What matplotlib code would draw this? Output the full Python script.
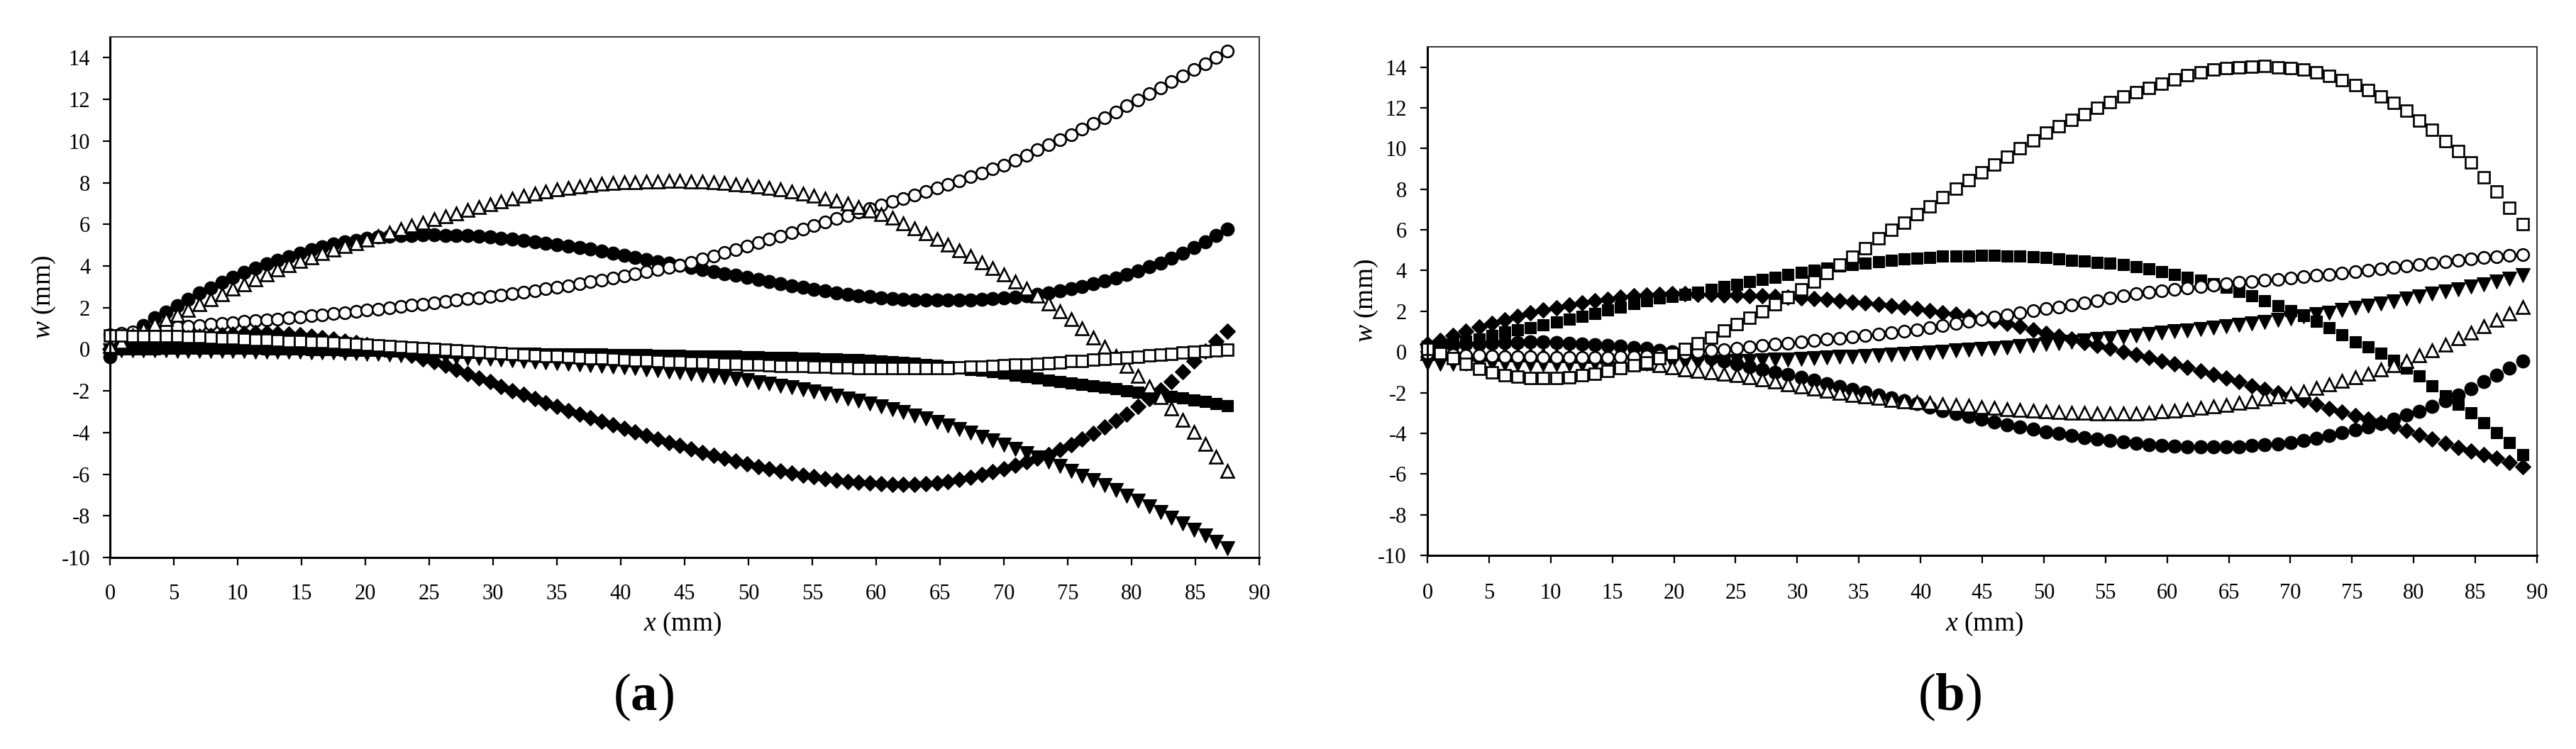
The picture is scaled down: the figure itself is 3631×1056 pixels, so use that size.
import numpy as np
import matplotlib
matplotlib.use("Agg")
import matplotlib.pyplot as plt

plt.rcParams['font.family'] = ['Liberation Serif', 'DejaVu Serif']
plt.rcParams['mathtext.fontset'] = 'custom'
plt.rcParams['mathtext.rm'] = 'Liberation Serif'
plt.rcParams['mathtext.it'] = 'Liberation Serif:italic'
plt.rcParams['mathtext.bf'] = 'Liberation Serif:bold'
plt.rcParams['axes.unicode_minus'] = False

# ---------------- data: panel (a) ----------------
x_a = np.round(np.arange(101) * 0.875, 3)

a_open_circle = [0.70,0.76,0.82,0.88,0.95,1.01,1.06,1.11,1.15,1.19,
 1.24,1.28,1.33,1.37,1.42,1.46,1.50,1.55,1.60,1.65,
 1.71,1.76,1.81,1.87,1.93,1.99,2.05,2.11,2.17,2.24,
 2.30,2.36,2.42,2.48,2.54,2.61,2.68,2.75,2.82,2.90,
 2.97,3.06,3.15,3.24,3.32,3.41,3.51,3.61,3.72,3.82,
 3.93,4.04,4.18,4.33,4.48,4.64,4.79,4.95,5.11,5.28,
 5.44,5.60,5.77,5.93,6.10,6.27,6.43,6.60,6.77,6.93,
 7.09,7.25,7.40,7.56,7.73,7.91,8.10,8.28,8.47,8.65,
 8.85,9.08,9.32,9.57,9.81,10.05,10.31,10.58,10.85,11.12,
 11.40,11.68,11.97,12.26,12.55,12.84,13.13,13.43,13.72,14.02,
 14.33]

a_filled_circle = [-0.35,0.25,0.75,1.15,1.5,1.8,2.1,2.4,2.7,2.95,
 3.2,3.45,3.68,3.9,4.1,4.28,4.45,4.62,4.78,4.92,
 5.04,5.15,5.24,5.32,5.38,5.43,5.46,5.48,5.49,5.49,
 5.48,5.47,5.45,5.42,5.38,5.33,5.28,5.22,5.16,5.10,
 5.03,4.96,4.88,4.80,4.71,4.62,4.52,4.42,4.32,4.22,
 4.12,4.02,3.92,3.83,3.74,3.64,3.54,3.44,3.34,3.24,
 3.14,3.05,2.96,2.87,2.79,2.71,2.64,2.58,2.52,2.47,
 2.43,2.40,2.38,2.36,2.35,2.35,2.36,2.37,2.39,2.42,
 2.46,2.51,2.57,2.64,2.72,2.81,2.91,3.02,3.14,3.28,
 3.43,3.59,3.76,3.95,4.15,4.37,4.61,4.87,5.15,5.45,
 5.78]

a_open_triangle = [0.15,0.35,0.65,0.98,1.22,1.44,1.66,1.9,2.15,2.4,
 2.65,2.9,3.13,3.36,3.59,3.82,4.03,4.23,4.42,4.6,
 4.77,4.94,5.1,5.27,5.44,5.61,5.77,5.93,6.08,6.23,
 6.38,6.53,6.68,6.82,6.96,7.1,7.23,7.36,7.48,7.58,
 7.68,7.76,7.83,7.89,7.94,7.98,8.01,8.03,8.05,8.06,
 8.07,8.07,8.06,8.04,8.01,7.97,7.93,7.88,7.82,7.75,
 7.67,7.58,7.48,7.37,7.25,7.12,6.98,6.83,6.67,6.5,
 6.3,6.05,5.8,5.55,5.3,5.02,4.75,4.47,4.18,3.88,
 3.58,3.25,2.92,2.58,2.2,1.82,1.43,1.0,0.56,0.12,
 -0.34,-0.8,-1.28,-1.78,-2.3,-2.84,-3.4,-3.97,-4.56,-5.17,
 -5.85]

a_down_triangle = [-0.05,-0.05,-0.06,-0.06,-0.07,-0.07,-0.08,-0.08,-0.09,-0.09,
 -0.1,-0.1,-0.1,-0.11,-0.11,-0.12,-0.12,-0.13,-0.14,-0.15,
 -0.16,-0.18,-0.19,-0.21,-0.23,-0.25,-0.28,-0.3,-0.32,-0.34,
 -0.36,-0.39,-0.42,-0.44,-0.47,-0.5,-0.54,-0.57,-0.6,-0.63,
 -0.66,-0.69,-0.73,-0.76,-0.8,-0.84,-0.88,-0.92,-0.97,-1.02,
 -1.06,-1.11,-1.17,-1.23,-1.29,-1.36,-1.43,-1.5,-1.58,-1.66,
 -1.75,-1.84,-1.93,-2.03,-2.13,-2.24,-2.36,-2.48,-2.61,-2.74,
 -2.88,-3.03,-3.18,-3.34,-3.5,-3.67,-3.84,-4.02,-4.2,-4.39,
 -4.58,-4.78,-4.98,-5.19,-5.4,-5.62,-5.84,-6.07,-6.3,-6.54,
 -6.78,-7.03,-7.29,-7.55,-7.82,-8.1,-8.38,-8.67,-8.96,-9.26,
 -9.56]

a_diamond = [0.0,0.09,0.18,0.26,0.34,0.42,0.49,0.56,0.62,0.67,
 0.71,0.74,0.76,0.78,0.78,0.77,0.74,0.7,0.64,0.57,
 0.48,0.4,0.31,0.22,0.1,-0.03,-0.16,-0.3,-0.45,-0.6,
 -0.78,-0.97,-1.17,-1.37,-1.57,-1.78,-1.98,-2.18,-2.37,-2.56,
 -2.75,-2.94,-3.12,-3.29,-3.46,-3.63,-3.8,-3.97,-4.14,-4.31,
 -4.47,-4.63,-4.79,-4.95,-5.1,-5.24,-5.38,-5.51,-5.63,-5.74,
 -5.85,-5.95,-6.04,-6.13,-6.21,-6.28,-6.34,-6.39,-6.43,-6.46,
 -6.48,-6.49,-6.49,-6.47,-6.44,-6.36,-6.27,-6.15,-6.02,-5.87,
 -5.73,-5.57,-5.41,-5.23,-5.05,-4.82,-4.57,-4.31,-4.04,-3.75,
 -3.43,-3.12,-2.76,-2.37,-1.96,-1.55,-1.07,-0.58,-0.1,0.38,
 0.85]

a_open_square = [0.65,0.65,0.64,0.64,0.63,0.62,0.61,0.6,0.58,0.56,
 0.54,0.52,0.49,0.47,0.44,0.42,0.4,0.38,0.36,0.34,
 0.32,0.29,0.25,0.22,0.18,0.14,0.11,0.07,0.04,0.01,
 -0.03,-0.06,-0.09,-0.12,-0.16,-0.19,-0.22,-0.25,-0.28,-0.31,
 -0.33,-0.36,-0.39,-0.42,-0.44,-0.47,-0.49,-0.52,-0.54,-0.57,
 -0.59,-0.61,-0.63,-0.65,-0.67,-0.69,-0.71,-0.73,-0.75,-0.77,
 -0.79,-0.8,-0.82,-0.84,-0.85,-0.87,-0.88,-0.9,-0.91,-0.92,
 -0.92,-0.92,-0.92,-0.91,-0.9,-0.89,-0.87,-0.85,-0.83,-0.8,
 -0.78,-0.75,-0.72,-0.69,-0.66,-0.62,-0.58,-0.55,-0.51,-0.47,
 -0.43,-0.39,-0.35,-0.3,-0.26,-0.22,-0.17,-0.13,-0.09,-0.05,
 -0.01]

a_filled_square = [0.0,0.01,0.02,0.03,0.03,0.04,0.04,0.05,0.05,0.05,
 0.05,0.05,0.04,0.04,0.03,0.02,0.01,0.0,-0.01,-0.02,
 -0.03,-0.04,-0.05,-0.06,-0.07,-0.08,-0.09,-0.1,-0.11,-0.12,
 -0.13,-0.14,-0.15,-0.16,-0.17,-0.17,-0.18,-0.19,-0.2,-0.21,
 -0.21,-0.22,-0.23,-0.24,-0.24,-0.25,-0.26,-0.26,-0.27,-0.28,
 -0.29,-0.3,-0.31,-0.31,-0.32,-0.33,-0.34,-0.35,-0.37,-0.38,
 -0.39,-0.41,-0.42,-0.44,-0.45,-0.47,-0.49,-0.51,-0.54,-0.57,
 -0.6,-0.64,-0.68,-0.73,-0.78,-0.84,-0.9,-0.96,-1.02,-1.08,
 -1.15,-1.23,-1.31,-1.39,-1.47,-1.55,-1.63,-1.7,-1.77,-1.84,
 -1.91,-1.98,-2.05,-2.12,-2.19,-2.26,-2.34,-2.43,-2.52,-2.62,
 -2.72]

# ---------------- data: panel (b) ----------------
x_b = np.round(np.arange(86) * 1.045, 3)

b_open_square = [0.15,
 -0.05,-0.32,-0.6,-0.84,-1.02,-1.13,-1.22,-1.27,-1.28,-1.27,
 -1.24,-1.15,-1.06,-0.95,-0.8,-0.66,-0.5,-0.3,-0.09,0.15,
 0.44,0.72,1.05,1.36,1.67,2.0,2.35,2.7,3.08,3.46,
 3.88,4.28,4.68,5.1,5.57,6.0,6.36,6.78,7.17,7.62,
 8.04,8.45,8.82,9.2,9.6,10.0,10.4,10.78,11.1,11.42,
 11.7,11.99,12.27,12.55,12.78,12.98,13.2,13.4,13.6,13.75,
 13.88,13.96,14.0,14.03,14.05,14.0,13.96,13.87,13.74,13.56,
 13.35,13.13,12.86,12.56,12.25,11.86,11.38,10.93,10.38,9.88,
 9.3,8.58,7.88,7.1,6.3]

b_filled_square = [0.3,0.35,0.42,0.52,0.65,0.82,0.97,1.1,1.2,1.33,
 1.48,1.61,1.76,1.9,2.06,2.22,2.37,2.52,2.64,2.74,
 2.83,2.93,3.06,3.2,3.33,3.45,3.57,3.68,3.8,3.91,
 4.03,4.13,4.21,4.28,4.36,4.43,4.5,4.56,4.61,4.66,
 4.7,4.72,4.73,4.74,4.74,4.73,4.71,4.68,4.63,4.57,
 4.51,4.46,4.41,4.36,4.3,4.2,4.08,3.95,3.82,3.68,
 3.53,3.36,3.18,2.98,2.76,2.52,2.27,2.02,1.78,1.5,
 1.18,0.84,0.5,0.24,-0.06,-0.42,-0.78,-1.18,-1.68,-2.14,
 -2.58,-3.0,-3.48,-3.97,-4.45,-5.05]

b_open_circle = [-0.05,-0.09,-0.12,-0.15,-0.18,-0.2,-0.22,-0.24,-0.25,-0.26,
 -0.27,-0.27,-0.27,-0.27,-0.26,-0.25,-0.23,-0.2,-0.15,-0.1,
 -0.05,0.0,0.06,0.12,0.18,0.25,0.32,0.38,0.44,0.5,
 0.56,0.62,0.68,0.74,0.81,0.88,0.95,1.02,1.1,1.19,
 1.29,1.39,1.5,1.6,1.71,1.82,1.93,2.03,2.13,2.22,
 2.32,2.42,2.53,2.64,2.75,2.85,2.94,3.02,3.09,3.16,
 3.23,3.29,3.35,3.41,3.47,3.52,3.58,3.64,3.7,3.76,
 3.82,3.88,3.95,4.02,4.09,4.16,4.23,4.31,4.38,4.45,
 4.51,4.57,4.63,4.69,4.74,4.79]

b_down_triangle = [-0.55,-0.57,-0.58,-0.59,-0.6,-0.6,-0.6,-0.61,-0.61,-0.61,
 -0.61,-0.61,-0.61,-0.6,-0.6,-0.59,-0.58,-0.57,-0.56,-0.55,
 -0.53,-0.51,-0.49,-0.47,-0.45,-0.43,-0.41,-0.39,-0.37,-0.34,
 -0.31,-0.28,-0.25,-0.22,-0.19,-0.16,-0.13,-0.09,-0.06,-0.02,
 0.02,0.06,0.1,0.14,0.18,0.23,0.28,0.33,0.38,0.44,
 0.5,0.56,0.62,0.68,0.75,0.81,0.88,0.94,1.01,1.07,
 1.13,1.19,1.26,1.33,1.4,1.48,1.56,1.65,1.74,1.84,
 1.94,2.05,2.16,2.27,2.38,2.5,2.61,2.73,2.85,2.97,
 3.09,3.21,3.33,3.45,3.6,3.78]

b_open_triangle = [-0.05,-0.07,-0.08,-0.09,-0.1,-0.1,-0.11,-0.12,-0.13,-0.14,
 -0.16,-0.17,-0.19,-0.21,-0.25,-0.33,-0.43,-0.55,-0.67,-0.77,
 -0.87,-0.95,-1.01,-1.07,-1.16,-1.26,-1.37,-1.47,-1.58,-1.69,
 -1.81,-1.92,-2.02,-2.11,-2.19,-2.27,-2.35,-2.42,-2.47,-2.52,
 -2.56,-2.61,-2.66,-2.7,-2.75,-2.8,-2.85,-2.89,-2.93,-2.96,
 -2.98,-3.0,-3.02,-3.03,-3.03,-3.01,-2.98,-2.93,-2.87,-2.81,
 -2.74,-2.68,-2.61,-2.52,-2.43,-2.31,-2.18,-2.06,-1.93,-1.77,
 -1.6,-1.43,-1.26,-1.07,-0.88,-0.66,-0.43,-0.17,0.09,0.36,
 0.66,0.96,1.25,1.57,1.88,2.2]

b_filled_circle = [0.3,0.32,0.35,0.38,0.4,0.43,0.45,0.47,0.48,0.48,
 0.47,0.44,0.4,0.37,0.33,0.28,0.23,0.17,0.09,0.01,
 -0.09,-0.2,-0.32,-0.45,-0.6,-0.74,-0.87,-1.0,-1.12,-1.25,
 -1.4,-1.56,-1.7,-1.85,-1.99,-2.13,-2.25,-2.39,-2.54,-2.7,
 -2.87,-3.02,-3.17,-3.31,-3.45,-3.57,-3.69,-3.8,-3.92,-4.02,
 -4.12,-4.2,-4.27,-4.34,-4.41,-4.48,-4.55,-4.6,-4.64,-4.66,
 -4.67,-4.68,-4.67,-4.65,-4.61,-4.57,-4.51,-4.44,-4.36,-4.26,
 -4.12,-3.98,-3.84,-3.68,-3.5,-3.31,-3.11,-2.91,-2.67,-2.41,
 -2.12,-1.8,-1.47,-1.15,-0.8,-0.44]

b_diamond = [0.38,0.56,0.8,1.02,1.22,1.4,1.58,1.74,1.91,2.05,
 2.18,2.3,2.41,2.51,2.59,2.68,2.75,2.8,2.83,2.85,
 2.85,2.84,2.83,2.81,2.79,2.77,2.75,2.72,2.7,2.67,
 2.63,2.58,2.52,2.46,2.4,2.33,2.27,2.2,2.12,2.03,
 1.94,1.84,1.75,1.66,1.55,1.4,1.25,1.09,0.93,0.78,
 0.62,0.47,0.32,0.17,0.02,-0.13,-0.28,-0.43,-0.59,-0.76,
 -0.93,-1.1,-1.28,-1.47,-1.65,-1.83,-2.0,-2.17,-2.35,-2.56,
 -2.77,-2.96,-3.14,-3.32,-3.48,-3.66,-3.85,-4.06,-4.28,-4.5,
 -4.7,-4.88,-5.05,-5.22,-5.42,-5.65]

x_ticks = list(range(0, 95, 5))
y_ticks = list(range(-10, 16, 2))

# ---------------- figure ----------------
W, H = 3631, 1056
fig = plt.figure(figsize=(W / 100, H / 100), dpi=100)

def frac_axes(l, t, r, b):
    return [l / W, 1 - b / H, (r - l) / W, (b - t) / H]

ax_a = fig.add_axes(frac_axes(155, 52, 1775, 786))
ax_b = fig.add_axes(frac_axes(2012, 66, 3576, 783))

open_kw = dict(mfc='white', mec='black', mew=1.9)
fill_kw = dict(mfc='black', mec='black', mew=0.8)

def draw(ax, x, y, marker, ms, kw):
    ax.plot(x[:len(y)], y, linestyle='none', marker=marker, ms=ms,
            clip_on=False, **kw)

# panel (a) order
draw(ax_a, x_a, a_filled_square, 's', 12.0, fill_kw)
draw(ax_a, x_a, a_down_triangle, 'v', 14.0, fill_kw)
draw(ax_a, x_a, a_filled_circle, 'o', 13.5, fill_kw)
draw(ax_a, x_a, a_open_circle, 'o', 12.0, open_kw)
draw(ax_a, x_a, a_diamond, 'D', 11.0, fill_kw)
draw(ax_a, x_a, a_open_triangle, '^', 12.5, open_kw)
draw(ax_a, x_a, a_open_square, 's', 11.5, open_kw)

# panel (b) order
draw(ax_b, x_b, b_filled_square, 's', 12.0, fill_kw)
draw(ax_b, x_b, b_diamond, 'D', 11.0, fill_kw)
draw(ax_b, x_b, b_down_triangle, 'v', 14.0, fill_kw)
draw(ax_b, x_b, b_filled_circle, 'o', 13.5, fill_kw)
draw(ax_b, x_b, b_open_triangle, '^', 12.5, open_kw)
draw(ax_b, x_b, b_open_circle, 'o', 12.0, open_kw)
draw(ax_b, x_b, b_open_square, 's', 11.5, open_kw)

for ax, xpad, ypad in ((ax_a, 18.5, 12.5), (ax_b, 20, 13.5)):
    ax.set_xlim(0, 90)
    ax.set_ylim(-10, 15)
    ax.set_xticks(x_ticks)
    ax.set_yticks(y_ticks)
    ax.set_xticklabels([str(v) for v in x_ticks])
    ax.set_yticklabels([str(v) for v in y_ticks])
    ax.tick_params(axis='x', direction='out', length=8, width=1.6,
                   labelsize=22, pad=xpad)
    ax.tick_params(axis='y', direction='out', length=7.5, width=1.6,
                   labelsize=22, pad=ypad)
    for s in ('left', 'bottom'):
        ax.spines[s].set_linewidth(2.2)
        ax.spines[s].set_color('black')
    for s in ('top', 'right'):
        ax.spines[s].set_linewidth(1.4)
        ax.spines[s].set_color('#333333')
    ax.set_facecolor('white')

# axis labels
fig.text(62 / W, 1 - 419 / H, r'$w$ (mm)', rotation=90, ha='center',
         va='center', fontsize=27)
fig.text(1926 / W, 1 - 424 / H, r'$w$ (mm)', rotation=90, ha='center',
         va='center', fontsize=27)
fig.text(962 / W, 1 - 880 / H, r'$x$ (mm)', ha='center', va='center',
         fontsize=27)
fig.text(2797 / W, 1 - 880 / H, r'$x$ (mm)', ha='center', va='center',
         fontsize=27)

# panel captions
fig.text(907 / W, 1 - 983 / H, r'($\mathbf{a}$)', ha='center', va='center',
         fontsize=54)
fig.text(2748 / W, 1 - 983 / H, r'($\mathbf{b}$)', ha='center', va='center',
         fontsize=54)

fig.savefig('out.png', dpi=100, facecolor='white')
